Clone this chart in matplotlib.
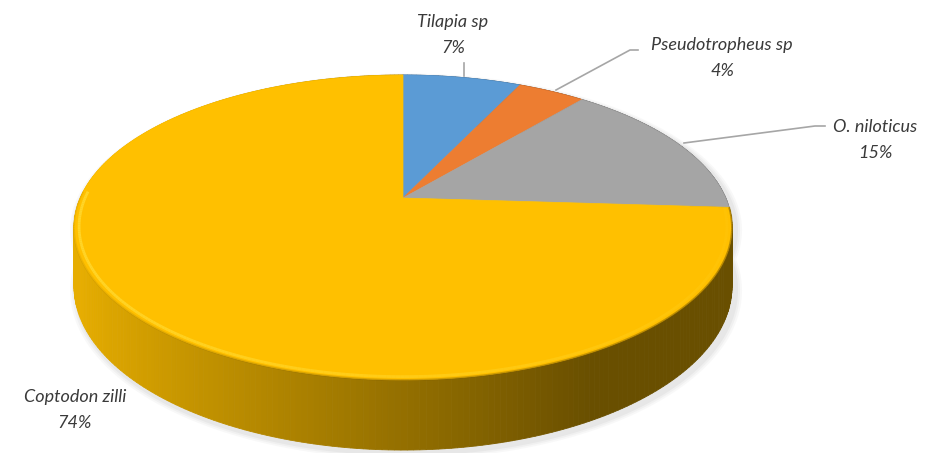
import numpy as np
import matplotlib.pyplot as plt
from matplotlib.patches import Polygon
from matplotlib.collections import LineCollection
import matplotlib.colors as mcolors

# chart data
species = ["Tilapia sp", "Pseudotropheus sp", "O. niloticus", "Coptodon zilli"]
shares = [7, 4, 15, 74]
colors = ["#5B9BD5", "#ED7D31", "#A5A5A5", "#FFC000"]

# pie geometry (pixels), perspective factor k
cx, cy = 403, 198
A, B, k = 322.8, 146.8, 0.1934
depth0 = 56.5


def project(theta, drop=0.0, r=1.0):
    # theta in degrees, clockwise from 12 o'clock
    t = np.radians(theta)
    X = r * np.sin(t)
    Z = -r * np.cos(t)
    w = 1 - k * Z
    return cx + A * X / w, cy + B * Z / w + drop * depth0 / w


fig = plt.figure(figsize=(9.25, 4.53), dpi=100)
ax = fig.add_axes([0, 0, 1, 1])
ax.set_xlim(0, 925)
ax.set_ylim(453, 0)
ax.axis("off")

total = sum(shares)
bounds = np.concatenate([[0], np.cumsum(shares) / total * 360])

# soft shadow
th_all = np.linspace(0, 360, 361)
for grow, a in [(7, 0.05), (5, 0.06), (3, 0.08)]:
    xs, ys = project(th_all, drop=1.0)
    xt, yt = project(th_all)
    sx = np.concatenate([xt, xs]) + 3
    sy = np.concatenate([yt, ys]) + 3
    ax.fill(cx + (sx - cx) * (1 + grow / 330), cy + 40 + (sy - cy - 40) * (1 + grow / 250),
            color="#808080", alpha=a, lw=0, zorder=1)

# side segments, drawn back to front
segs = []
for i in range(len(shares)):
    th = np.linspace(bounds[i], bounds[i + 1], max(int(shares[i] * 4), 4))
    base = np.array(mcolors.to_rgb(colors[i]))
    for a0, a1 in zip(th[:-1], th[1:]):
        xa, ya = project(a0)
        xb, yb = project(a1)
        xa2, ya2 = project(a0, drop=1.0)
        xb2, yb2 = project(a1, drop=1.0)
        am = np.radians((a0 + a1) / 2)
        X = np.sin(am)
        Z = -np.cos(am)
        shade = np.clip(0.58 - 0.35 * X, 0.41, 0.9)
        segs.append((Z, [(xa, ya), (xb, yb), (xb2, yb2), (xa2, ya2)],
                     np.clip(base * shade, 0, 1)))
segs.sort(key=lambda s: s[0])
for Z, pts, c in segs:
    ax.add_patch(Polygon(pts, closed=True, fc=c, ec=c, lw=0.6, zorder=2))

# top faces
for i in range(len(shares)):
    th = np.linspace(bounds[i], bounds[i + 1], 200)
    xs, ys = project(th)
    pts = [(cx, cy)] + list(zip(xs, ys))
    ax.add_patch(Polygon(pts, closed=True, fc=colors[i], ec=colors[i], lw=0.5, zorder=3))

# bevel highlight along the front rim
th = np.linspace(bounds[-2], 360, 400)
th = th[(-np.cos(np.radians(th)) > -0.05)]
xs, ys = project(th, r=0.985)
pts = np.column_stack([xs, ys])
lines = np.stack([pts[:-1], pts[1:]], axis=1)
Xm = np.sin(np.radians(th[:-1]))
cols = [(1.0, 0.86, 0.2, float(np.clip(0.8 - 0.7 * (x + 1) / 2, 0.05, 0.8))) for x in Xm]
ax.add_collection(LineCollection(lines, colors=cols, linewidths=2.0, zorder=4))
xs, ys = project(th, r=1.0)
pts = np.column_stack([xs, ys])
lines = np.stack([pts[:-1], pts[1:]], axis=1)
cols = [(0.5, 0.37, 0.0, float(np.clip(0.1 + 0.45 * (x + 1) / 2, 0, 1))) for x in Xm]
ax.add_collection(LineCollection(lines, colors=cols, linewidths=1.4, zorder=4))

# labels
txt = dict(color="#3A3A3A", fontsize=13, style="italic", family="Lato", ha="center", va="center")
label_pos = [(453, 22), (722, 45), (875, 127), (75, 397)]
for name, share, (lx, ly) in zip(species, shares, label_pos):
    ax.text(lx, ly, name, zorder=6, **txt)
    ax.text(lx, ly + 26, f"{share}%", zorder=6, **txt)

# leader lines
lc = "#A6A6A6"
ax.plot([464, 464], [63, 76], color=lc, lw=1.2, zorder=5)
ax.plot([556, 630, 638], [90, 50, 50], color=lc, lw=1.2, zorder=5)
ax.plot([684, 815, 825], [143, 126, 126], color=lc, lw=1.2, zorder=5)

fig.savefig("out.png", dpi=100)
